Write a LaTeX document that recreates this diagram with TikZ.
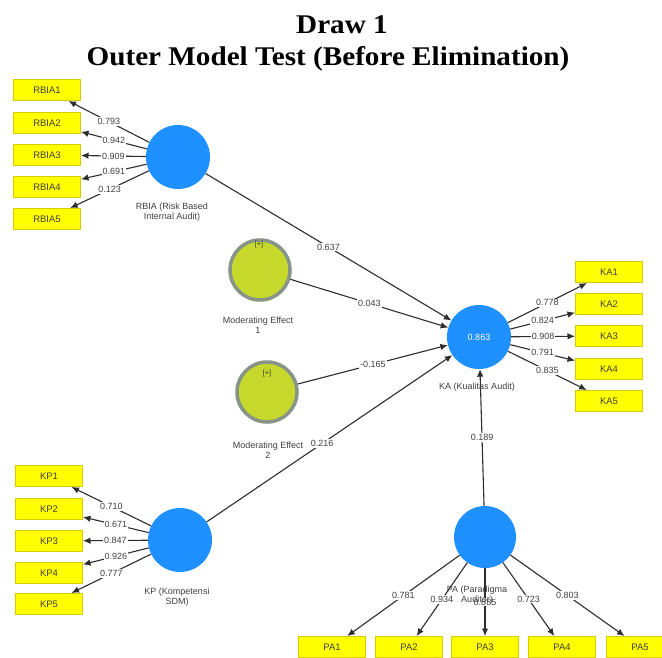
\documentclass[tikz,border=0pt]{standalone}
\usepackage{fontspec}
\usepackage{graphicx}
\setmainfont{Liberation Serif}
\newfontfamily\lblfont{Liberation Sans}
\usetikzlibrary{arrows.meta}
\definecolor{lvblue}{RGB}{30,144,255}
\definecolor{mefill}{RGB}{198,216,44}
\definecolor{meborder}{RGB}{135,148,135}
\definecolor{indyellow}{RGB}{255,255,0}
\definecolor{indborder}{RGB}{214,204,0}
\definecolor{txtgrey}{RGB}{64,64,64}
\definecolor{lngrey}{RGB}{45,45,45}
\tikzset{
  titlefont/.style={font=\bfseries\fontsize{27}{30}\selectfont, anchor=base, inner sep=0pt},
  indbox/.style={draw=indborder, fill=indyellow, line width=1pt, minimum width=67pt, minimum height=21pt, inner sep=0pt, font=\lblfont\fontsize{9.5}{11}\selectfont, text=txtgrey},
  lvcircle/.style={circle, fill=lvblue, minimum size=64pt, inner sep=0pt},
  mecircle/.style={circle, fill=mefill, draw=meborder, line width=3.5pt, minimum size=60pt, inner sep=0pt},
  arr/.style={-{Latex[length=7.5pt,width=6.5pt]}, draw=lngrey, line width=1.1pt},
  wt/.style={font=\lblfont\fontsize{9}{10}\selectfont, text=txtgrey, fill=white, inner sep=1pt},
  capt/.style={font=\lblfont\fontsize{9}{10.5}\selectfont, text=txtgrey, align=center, inner sep=0pt},
}
\begin{document}
\begin{tikzpicture}[x=1pt,y=-1pt]
\useasboundingbox[fill=white] (0,0) rectangle (662,657);
% titles
\node[titlefont] (t1) at (342,33) {\scalebox{1.08}[1]{Draw 1}};
\node[titlefont] (t2) at (328,65) {\scalebox{1.08}[1]{Outer Model Test (Before Elimination)}};
% latent variables
\node[lvcircle] (rbia) at (178,157) {};
\node[lvcircle] (ka) at (479,337) {\lblfont\fontsize{9}{10}\selectfont\color{white}0.863};
\node[lvcircle] (kp) at (180,540) {};
\node[lvcircle, minimum size=62pt] (pa) at (485,537) {};
\node[mecircle] (me1) at (260,270) {};
\node[mecircle] (me2) at (267,392) {};
\node[capt, font=\lblfont\fontsize{7.5}{9}\selectfont, text=black!75] (me1p) at (259,245) {[+]};
\node[capt, font=\lblfont\fontsize{7.5}{9}\selectfont, text=black!75] (me2p) at (267,374) {[+]};
% indicators
\node[indbox] (r1) at (47,90) {RBIA1};
\node[indbox] (r2) at (47,123) {RBIA2};
\node[indbox] (r3) at (47,155) {RBIA3};
\node[indbox] (r4) at (47,187) {RBIA4};
\node[indbox] (r5) at (47,219) {RBIA5};
\node[indbox] (k1) at (609,272) {KA1};
\node[indbox] (k2) at (609,304) {KA2};
\node[indbox] (k3) at (609,336) {KA3};
\node[indbox] (k4) at (609,369) {KA4};
\node[indbox] (k5) at (609,401) {KA5};
\node[indbox] (p1) at (49,476) {KP1};
\node[indbox] (p2) at (49,509) {KP2};
\node[indbox] (p3) at (49,541) {KP3};
\node[indbox] (p4) at (49,573) {KP4};
\node[indbox] (p5) at (49,604) {KP5};
\node[indbox] (a1) at (332,647) {PA1};
\node[indbox] (a2) at (409,647) {PA2};
\node[indbox] (a3) at (485,647) {PA3};
\node[indbox] (a4) at (562,647) {PA4};
\node[indbox] (a5) at (640,647) {PA5};
% outer loadings
\draw[arr] (rbia) -- node[wt] {0.793} (r1);
\draw[arr] (rbia) -- node[wt] {0.942} (r2);
\draw[arr] (rbia) -- node[wt] {0.909} (r3);
\draw[arr] (rbia) -- node[wt] {0.691} (r4);
\draw[arr] (rbia) -- node[wt] {0.123} (r5);
\draw[arr] (ka) -- node[wt] {0.778} (k1);
\draw[arr] (ka) -- node[wt] {0.824} (k2);
\draw[arr] (ka) -- node[wt] {0.908} (k3);
\draw[arr] (ka) -- node[wt] {0.791} (k4);
\draw[arr] (ka) -- node[wt] {0.835} (k5);
\draw[arr] (kp) -- node[wt] {0.710} (p1);
\draw[arr] (kp) -- node[wt] {0.671} (p2);
\draw[arr] (kp) -- node[wt] {0.847} (p3);
\draw[arr] (kp) -- node[wt] {0.926} (p4);
\draw[arr] (kp) -- node[wt] {0.777} (p5);
\draw[arr] (pa) -- node[wt] {0.781} (a1);
\draw[arr] (pa) -- node[wt] {0.934} (a2);
\draw[arr] (pa) -- node[wt] {0.885} (a3);
\draw[arr] (pa) -- node[wt] {0.723} (a4);
\draw[arr] (pa) -- node[wt] {0.803} (a5);
% inner paths
\draw[arr] (rbia) -- node[wt] {0.637} (ka);
\draw[arr] (me1) -- node[wt] {0.043} (ka);
\draw[arr] (me2) -- node[wt] {-0.165} (ka);
\draw[arr] (kp) -- node[wt, pos=0.47] {0.216} (ka);
\draw[arr] (pa) -- node[wt] {0.189} (ka);
% captions
\node[capt] (rbiacap) at (172,212) {RBIA (Risk Based\\Internal Audit)};
\node[capt] (me1cap) at (258,325) {Moderating Effect\\1};
\node[capt] (me2cap) at (268,450) {Moderating Effect\\2};
\node[capt] (kacap) at (477,387) {KA (Kualitas Audit)};
\node[capt] (kpcap) at (177,597) {KP (Kompetensi\\SDM)};
\node[capt] (pacap) at (477,595) {PA (Paradigma\\Auditor)};
\end{tikzpicture}
\end{document}
